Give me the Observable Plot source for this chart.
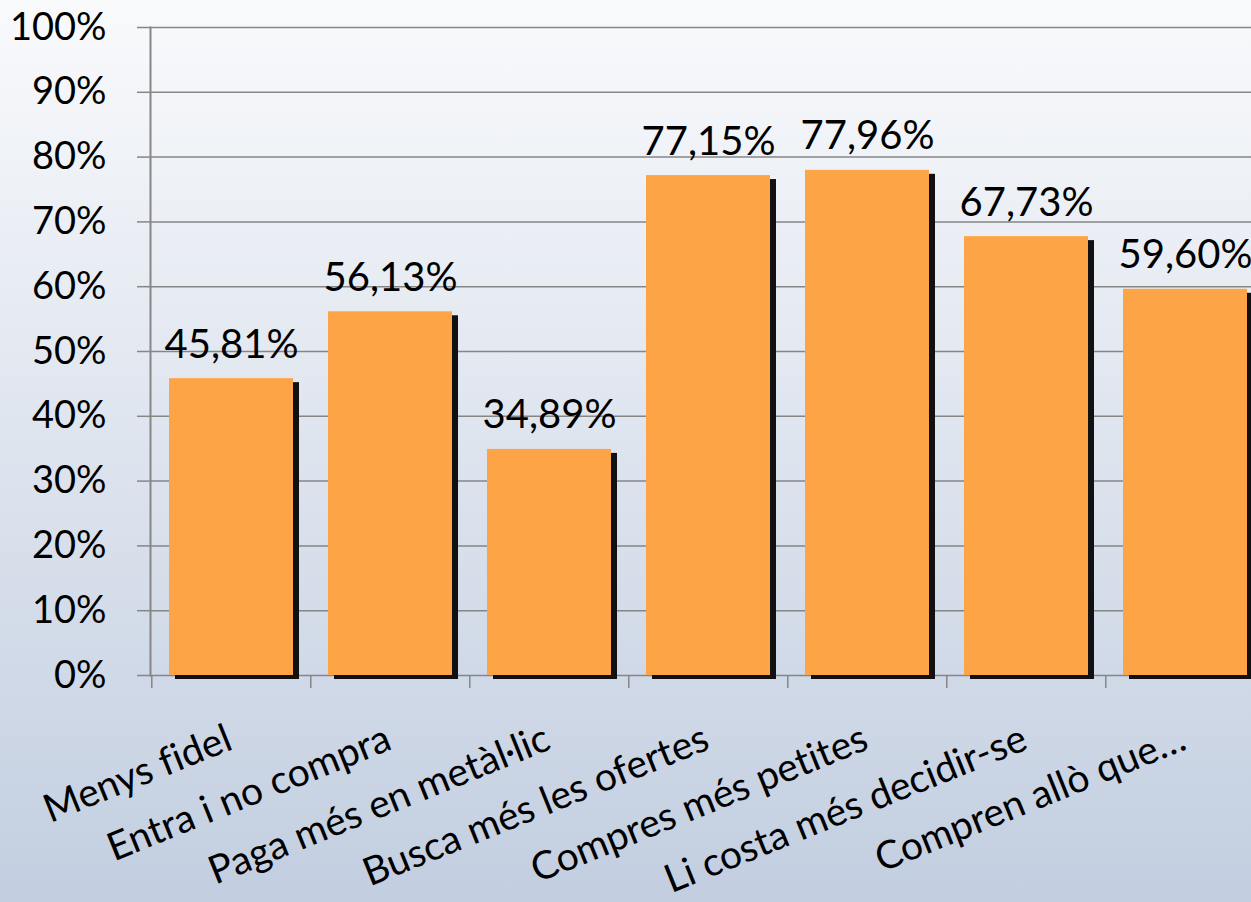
<!DOCTYPE html>
<html><head><meta charset="utf-8">
<script src="https://cdn.jsdelivr.net/npm/d3@7"></script>
<script src="https://cdn.jsdelivr.net/npm/@observablehq/plot@0.6"></script>
<style>
html,body{margin:0;padding:0;overflow:hidden;width:1251px;height:902px;background:linear-gradient(#f9fafc,#c2cee0);}
#chart{width:1251px;height:902px;overflow:hidden;}
#chart svg{max-width:none;font-variant-ligatures:none;}
</style>
</head><body><div id="chart"></div>
<script>
const categories = ["Menys fidel", "Entra i no compra", "Paga més en metàl·lic", "Busca més les ofertes", "Compres més petites", "Li costa més decidir-se", "Compren allò que…"];
const values = [45.81, 56.13, 34.89, 77.15, 77.96, 67.73, 59.60];
const yTicks = [0, 10, 20, 30, 40, 50, 60, 70, 80, 90, 100];

const data = categories.map((c, i) => ({category: c, value: values[i]}));
const W = 1270, H = 902, mL = 150, mR = 4;
const step = (W - mL - mR) / categories.length;
const font = "Lato, 'Open Sans', sans-serif";
const fmt = v => v.toFixed(2).replace(".", ",") + "%";

const chart = Plot.plot({
  width: W, height: H,
  marginLeft: mL, marginRight: mR, marginTop: 27, marginBottom: 227,
  style: {background: "transparent", fontFamily: font, color: "#000", overflow: "visible", maxWidth: "none"},
  x: {domain: categories, paddingInner: 0.22, paddingOuter: 0.11, label: null},
  y: {domain: [0, 100], ticks: yTicks, label: null},
  marks: [
    Plot.ruleY(yTicks, {stroke: "#868686", strokeWidth: 1.5}),
    Plot.frame({anchor: "left", stroke: "#868686", strokeWidth: 2}),
    Plot.axisY({ticks: yTicks, tickSize: 13, tickPadding: 31, tickFormat: d => d + "%", fontSize: 38, stroke: "#868686", strokeWidth: 1.5, label: null}),
    Plot.axisX({tickSize: 13, tickFormat: () => "", dx: -step / 2, stroke: "#868686", strokeWidth: 1.5, label: null}),
    Plot.barY(data, {x: "category", y: "value", fill: "#111", dx: 6, dy: 4}),
    Plot.barY(data, {x: "category", y: "value", fill: "#fda546"}),
    Plot.text(data, {x: "category", y: "value", text: d => fmt(d.value), dy: -21, lineAnchor: "bottom", fontSize: 40, fill: "#000"}),
    Plot.text(categories, {x: d => d, frameAnchor: "bottom", text: d => d, textAnchor: "end", lineAnchor: "bottom", rotate: -22, dx: 3, dy: 73, fontSize: 39, fill: "#000"})
  ]
});
document.getElementById("chart").appendChild(chart);
</script>
</body></html>
